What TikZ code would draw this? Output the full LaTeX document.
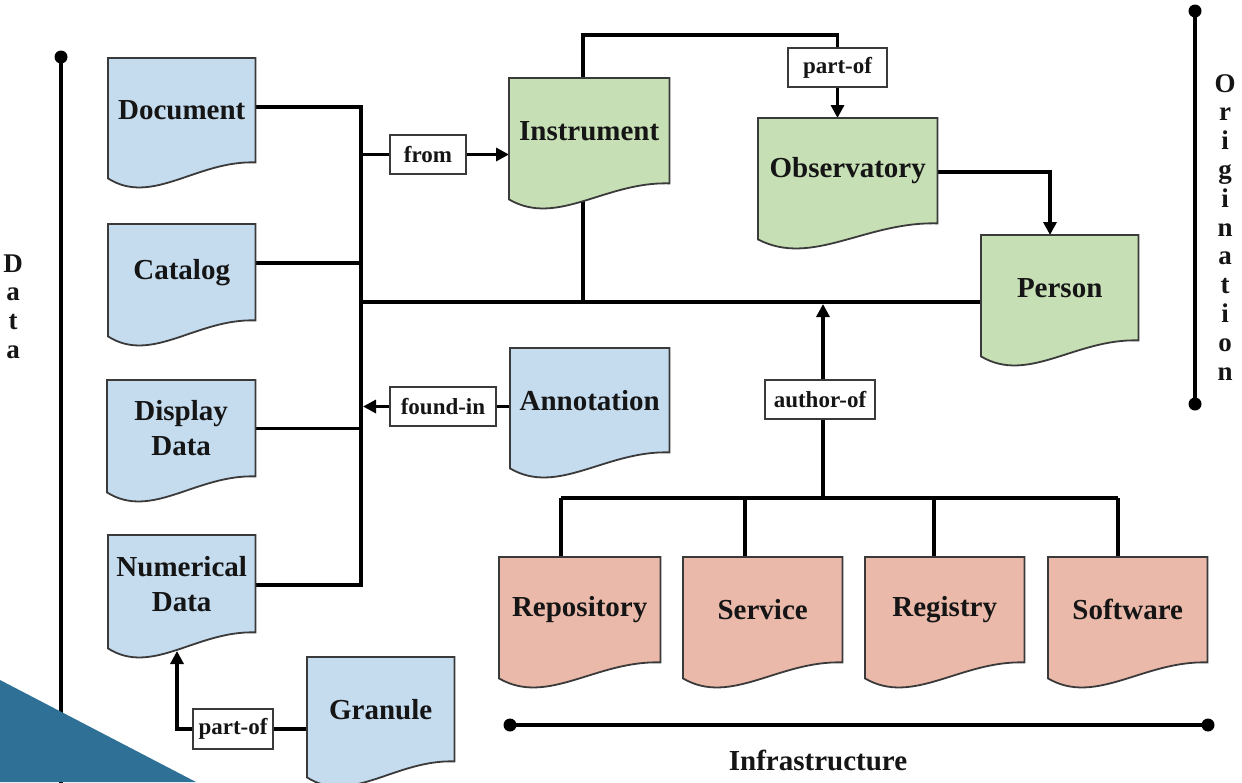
\documentclass[tikz,border=0pt]{standalone}
\usepackage{fontspec}
\setmainfont{Liberation Serif}
\usetikzlibrary{arrows.meta,calc}
\pgfdeclarelayer{bg}
\pgfdeclarelayer{conns}
\pgfdeclarelayer{shapes}
\pgfsetlayers{bg,conns,shapes,main}
\definecolor{dblue}{HTML}{C5DCEF}
\definecolor{dgreen}{HTML}{C6DFB4}
\definecolor{dred}{HTML}{EAB9AA}
\definecolor{edgec}{HTML}{3A3A3A}
\definecolor{tric}{HTML}{2E7096}
\definecolor{ink}{HTML}{151515}
\newcommand\DocShape[2]{%
 \path[docline, fill=#2] let \p1=(#1.south west), \p2=(#1.north east) in
 (\x1,\y2) -- (\x2,\y2) -- (\x2,\y1) .. controls ({\x1+0.6*(\x2-\x1)},{\y1+2pt}) and ({\x1+0.3*(\x2-\x1)},{\y1-44pt}) .. (\x1,{\y1-16pt}) -- cycle;}
\tikzset{
 boxtext/.style={inner sep=0pt, anchor=north west, align=center, text=ink, font=\fontsize{29}{35}\selectfont\bfseries},
 docline/.style={draw=edgec, line width=1.8pt, line join=miter},
 conn/.style={draw=black, line width=3.2pt},
 arr/.style={conn, -{Triangle[length=13pt,width=13pt]}},
 lbl/.style={draw=edgec, line width=2pt, fill=white, inner sep=0pt, minimum height=39pt, text=ink, font=\fontsize{23}{26}\selectfont\bfseries},
 axislbl/.style={inner sep=0pt, anchor=base, text=ink, font=\fontsize{27}{30}\selectfont\bfseries},
 axisline/.style={draw=black, line width=3.4pt}
}
\begin{document}
\begin{tikzpicture}[x=1pt,y=-1pt]
\begin{pgfonlayer}{bg}
\fill[white] (0,0) rectangle (1242,782);
\end{pgfonlayer}
\useasboundingbox (0,0) rectangle (1242,782);
% boxes
\node[boxtext, minimum width=147pt, minimum height=104pt] (document) at (108,58) {Document};
\node[boxtext, minimum width=147pt, minimum height=96pt] (catalog) at (108,224) {Catalog};
\node[boxtext, minimum width=148pt, minimum height=96pt] (display) at (107,380) {Display\\Data};
\node[boxtext, minimum width=147pt, minimum height=97pt] (numerical) at (108,535) {Numerical\\Data};
\node[boxtext, minimum width=147pt, minimum height=104pt] (granule) at (307,657) {Granule};
\node[boxtext, minimum width=159pt, minimum height=104pt] (annotation) at (510,348) {Annotation};
\node[boxtext, minimum width=160pt, minimum height=105pt] (instrument) at (509,78) {Instrument};
\node[boxtext, minimum width=179pt, minimum height=105pt] (observatory) at (758,118) {Observatory};
\node[boxtext, minimum width=157pt, minimum height=105pt] (person) at (981,235) {Person};
\node[boxtext, minimum width=161pt, minimum height=105pt] (repository) at (499,557) {Repository};
\node[boxtext, minimum width=159pt, minimum height=105pt] (service) at (683,557) {Service};
\node[boxtext, minimum width=159pt, minimum height=105pt] (registry) at (865,557) {Registry};
\node[boxtext, minimum width=159pt, minimum height=105pt] (software) at (1048,557) {Software};
\begin{pgfonlayer}{shapes}
\foreach \bx in {document,catalog,display,numerical,granule,annotation} {\DocShape{\bx}{dblue}}
\foreach \bx in {instrument,observatory,person} {\DocShape{\bx}{dgreen}}
\foreach \bx in {repository,service,registry,software} {\DocShape{\bx}{dred}}
\end{pgfonlayer}
% labels
\node[lbl, minimum width=76pt] (from) at (428,154.5) {from};
\node[lbl, minimum width=99pt] (partofA) at (837.5,67.5) {part-of};
\node[lbl, minimum width=106pt] (foundin) at (443,406.5) {found-in};
\node[lbl, minimum width=110pt] (authorof) at (820,399.5) {author-of};
\node[lbl, minimum width=80pt, minimum height=40pt] (partofB) at (233,729) {part-of};
% coordinates
\coordinate (busT) at (361,107);
\coordinate (busB) at (361,585);
\coordinate (catC) at (361,263);
\coordinate (hl) at (361,302);
\coordinate (instT) at (583,35);
\coordinate (instB) at (583,195);
\coordinate (obsC) at (1050,172);
\coordinate (authB) at (823,498);
\coordinate (authT) at (823,304);
\coordinate (bus1) at (561,498);
\coordinate (bus2) at (745,498);
\coordinate (bus3) at (934,498);
\coordinate (bus4) at (1118,498);
\coordinate (numIn) at (177,651);
\coordinate (dataT) at (61,57);
\coordinate (dataB) at (61,790);
\coordinate (oriT) at (1195,11);
\coordinate (oriB) at (1195,404);
\coordinate (infL) at (510,725);
\coordinate (infR) at (1208,725);
\begin{pgfonlayer}{conns}
\draw[conn] (document.east |- busT) -- (busT) -- (busB) -- (numerical.east |- busB);
\draw[conn] (catalog.east |- catC) -- (catC);
\draw[conn] (display.east) -- (display.east -| busT);
\draw[conn] (from.west -| busT) -- (from.west);
\draw[arr] (from.east) -- (from.east -| instrument.west);
\draw[conn] (hl) -- (hl -| person.west);
\draw[conn] (instB) -- (instB |- hl);
\draw[conn] (instrument.north -| instT) -- (instT) -- (instT -| partofA) -- (partofA.north);
\draw[arr] (partofA.south) -- (partofA.south |- observatory.north);
\draw[arr] (observatory.east |- obsC) -- (obsC) -- (obsC |- person.north);
\draw[conn] (annotation.west |- foundin) -- (foundin.east);
\draw[arr] (foundin.west) -- ([xshift=2pt]foundin.west -| busT);
\draw[conn] (bus1) -- (bus4);
\draw[conn] (bus1) -- (bus1 |- repository.north);
\draw[conn] (bus2) -- (bus2 |- service.north);
\draw[conn] (bus3) -- (bus3 |- registry.north);
\draw[conn] (bus4) -- (bus4 |- software.north);
\draw[conn] (authB) -- (authB |- authorof.south);
\draw[arr] (authB |- authorof.north) -- (authT);
\draw[conn] (granule.west |- partofB) -- (partofB.east);
\end{pgfonlayer}
\draw[arr] (partofB.west) -- (partofB.west -| numIn) -- (numIn);
% axes
\draw[axisline] (dataT) -- (dataB);
\fill (dataT) circle (6.5pt);
\draw[axisline] (oriT) -- (oriB);
\fill (oriT) circle (6.5pt);
\fill (oriB) circle (6.5pt);
\draw[axisline] (infL) -- (infR);
\fill (infL) circle (6.5pt);
\fill (infR) circle (6.5pt);
\foreach \l [count=\i from 0] in {D,a,t,a} \node[axislbl] (dat\i) at (13,{272+28.7*\i}) {\l};
\foreach \l [count=\i from 0] in {O,r,i,g,i,n,a,t,i,o,n} \node[axislbl] (ori\i) at (1225,{92+28.8*\i}) {\l};
\node[inner sep=0pt, text=ink, font=\fontsize{29}{35}\selectfont\bfseries] (infra) at (818,760) {Infrastructure};
% corner triangle
\fill[tric] (0,680) -- (196,782) -- (0,782) -- cycle;
\end{tikzpicture}
\end{document}
